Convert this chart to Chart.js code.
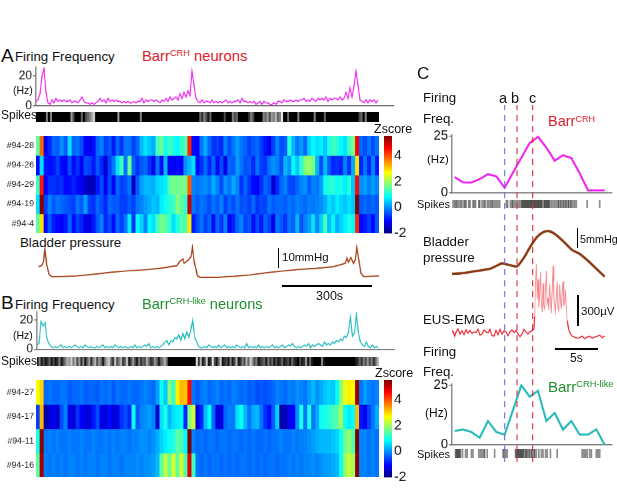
<!DOCTYPE html>
<html><head><meta charset="utf-8">
<style>
html,body{margin:0;padding:0;background:#fff;width:617px;height:495px;overflow:hidden;font-family:"Liberation Sans",Arial,sans-serif}
canvas{position:absolute}
.t{position:absolute;white-space:nowrap;line-height:1;color:#111;transform:translateY(-50%)}
.t sup{font-size:.62em;vertical-align:baseline;position:relative;top:-.5em}
.bar{position:absolute;background:#000}
</style>
<script src="https://cdn.jsdelivr.net/npm/chart.js@4/dist/chart.umd.min.js"></script>
</head><body>
<script>
// ---------- data ----------
const firingA=[3,4,8,20,25,9,2,1,4,2,5,3,4,3,4,3,3,4,2,3,3,2,4,6,3,2,2,1,2,1,2,3,5,3,4,2,5,3,4,3,4,3,3,2,3,2,3,2,2,3,2,3,3,5,2,4,3,4,4,3,4,3,2,4,3,5,3,6,4,5,6,4,8,5,9,6,10,7,23,14,5,3,2,4,2,3,3,2,4,2,3,2,3,2,3,4,2,3,2,3,3,4,2,5,3,3,2,3,2,3,1,2,3,1,3,2,2,1,1,2,1,3,3,2,4,3,3,4,3,3,4,3,4,4,5,3,4,3,5,4,3,5,4,5,4,6,3,5,4,5,5,4,6,4,5,9,5,12,6,13,23,14,4,3,2,4,2,4,3,4,2,4];
const firingB=[3,4,19,16,18,7,4,2,1,2,1,2,3,1,2,1,2,1,2,3,2,1,2,1,3,2,1,2,1,1,2,1,2,3,1,2,1,2,1,3,2,1,2,1,2,1,1,2,1,3,1,2,1,2,3,2,4,1,2,1,2,1,2,3,5,6,3,6,5,8,7,10,6,11,7,12,8,13,20,8,5,2,1,1,2,1,3,2,1,2,1,3,1,2,3,1,2,1,2,1,3,2,1,2,1,4,1,2,1,2,1,3,1,2,1,2,1,2,3,1,2,1,2,3,1,2,3,2,4,2,1,2,1,2,3,2,4,1,3,2,3,4,3,2,5,3,4,3,5,4,6,5,7,6,9,8,12,22,9,11,24,11,5,3,2,5,2,1,3,1,2,1];
const spikesA=[1,1,1,1,1,.5,1,.5,1,1,1,1,1,1,1,1,1,.4,.7,1,1,1,.6,1,.7,.6,.5,.35,.15,1,1,1,1,1,1,1,1,1,1,1,.4,1,1,1,1,1,1,1,1,1,1,.5,1,1,1,1,1,1,1,1,1,1,1,1,1,1,1,1,1,1,1,1,1,1,1,1,1,1,1,1,.6,.8,.5,.7,.9,.6,1,1,1,1,1,1,.7,1,1,1,.5,.7,.6,1,1,1,1,1,.8,.5,.7,1,1,1,1,.5,.6,.4,.7,.4,.5,.3,.6,.5,.1,1,1,.6,1,1,1,1,.5,1,1,1,1,1,1,1,.5,1,1,1,1,.6,1,1,1,1,1,1,1,1,1,1,1,1,1,1,1,1,.7,.6,1,.5,1,1,1,1,1,1];
const spikesB=[.9,.5,.9,.7,.9,.8,.6,.9,.7,.9,.8,.5,.9,.7,.5,.3,.4,.2,.5,.3,.7,.4,.8,.5,.9,.6,.4,.8,.5,.3,.7,.4,.6,.9,.5,.3,.2,.6,.8,.2,.7,.5,.3,.8,.6,.2,.9,.7,.4,.7,.9,.5,.8,.6,.7,.3,.6,.8,.7,.4,.6,.9,.6,.5,.3,.6,1,1,1,1,1,1,1,1,1,1,1,1,1,1,.1,.8,.3,.9,.7,.2,.9,.8,.1,.7,.9,.6,.2,.9,.8,.7,.9,.5,.9,.7,.3,.9,.8,.5,.7,.3,.6,.2,.4,.7,.5,.9,.8,.7,.6,.9,.5,.8,.6,.9,.7,.9,.8,.6,.9,.8,.7,.9,.6,.8,.9,1,.7,.9,.8,.4,.9,.6,.9,1,1,1,1,.5,.9,1,1,1,1,1,1,1,1,1,1,1,1,1,1,1,.9,.8,.6,.8,.5,.7,.4,.7,.5,.8,.6,.3];
const rowsA=['#94-28','#94-26','#94-29','#94-19','#94-4'];
const heatA=[
[1.5,3.8,-1.2,-.8,-.3,-.4,0,-.4,.6,-.3,-.2,-.5,-1.1,-1.2,-1,-.3,-.1,-.6,-.4,-.9,-.3,-.7,-.2,-.2,-.6,-.3,.3,.6,.4,.2,1.3,1.6,.9,1.3,1,.8,1.2,1.4,4.3,-1,-1.1,-.2,.2,-.3,-.7,-.6,-.8,-.1,-.5,-.2,.1,-.2,-.3,-.6,-.4,-.3,-.6,-.9,-1.2,-.6,-.1,-.5,-.4,1.1,.3,-.2,.1,-.3,.5,.8,.6,.7,.4,1,1.3,1.1,.8,.6,1.3,1.7,4.6,-.3,-.5,-.2,-.5,-.2],
[-1,.6,-.9,-1,-.9,-.6,-1,-1.1,-.5,-1,-.7,-1.1,-.5,-.6,-.9,-.4,-.8,-1.4,-.6,-.2,.6,1.3,-.2,1.6,-.3,-.7,-.4,-.3,-.7,-1.2,-.2,-1,.3,-1.1,-1.1,-1,-1.1,0,.3,.6,-1,-.7,-.3,-.8,-.3,-1,-.5,-1.2,-.3,-.4,.1,-.2,-.5,-.4,-.8,-.2,-.6,-.7,-.2,0,-.1,-.5,.3,0,.8,.4,1.1,1.8,1.9,1.7,.3,-.5,.3,-.4,-.8,-.7,-.8,-.1,-.7,.2,2.9,-.8,-.2,-.8,-.1,-.9],
[1.2,4.4,-1.1,-.7,-.7,-.8,-.7,-1,-1,-.8,-1,-1.2,-1.4,-1.6,-1.6,-.9,-.5,-1.1,-.5,-1.1,-.3,-.6,-.5,-.2,-1.5,-.4,.1,.3,.3,.2,.5,.6,.7,1.4,1.7,1.6,1.7,1.7,3.9,-.1,-.2,-.1,0,-.2,.2,-.1,-.5,0,-.2,.2,-.1,-.7,-.3,-.7,-1,-1.1,-.7,-.3,-.5,-1.4,-.8,-.3,-.1,-.5,-.6,-.3,-.1,0,-.4,-.1,-.2,.1,.9,1.1,1.1,.9,1,.7,1.1,.4,4.5,0,.1,-.1,.1,-.1],
[.6,5.4,-.6,-.1,-.4,-.2,-.3,-.4,-.5,-.6,-.2,-.4,.1,-.6,-.7,-.3,-.5,-.8,-.3,-.4,-.4,-.6,-.6,-.4,-.6,-.2,-.1,.1,.2,.4,.3,.7,.9,1.1,1.2,1.8,1.5,1.2,4.9,-.2,-.4,-.2,-.3,-.5,-.2,-.4,-.1,-.6,-.3,-.5,-.2,-.5,-.4,-.6,-.3,-.7,-.5,-.6,-.2,-.4,-.3,-.3,-.4,-.2,-.3,-.1,-.2,-.3,-.1,-.2,-.1,0,.2,.6,.4,.7,.5,.4,.6,.4,5.5,-.4,-.3,-.4,-.3,-.4],
[1.5,2.9,-1,-.4,-.9,-1,-1.1,-.9,-.3,-1,-.6,-.8,-1.2,-1.3,-.9,-.4,-.1,-.8,-.5,-1,-.3,-.6,-.2,.7,-.7,.8,.5,-.1,.8,.6,1.3,1.7,1.5,1.2,.6,1,1.4,1.4,2.9,-.9,-.5,-.2,-.6,-.3,-1,-.3,-.7,-.1,-1.1,-.8,-.3,-.1,-.6,-.4,-1,-.5,-.9,-.3,-.6,-1.2,-.2,-.4,-.7,-.2,-.4,.3,-.5,-.1,.1,.6,-.1,.5,1.3,.3,.8,.2,.5,.7,1,.8,4.3,-1,-.9,-.6,-1,-.4]];
const rowsB=['#94-27','#94-17','#94-11','#94-16'];
const heatB=[
[2.6,3,-.3,-.2,-.3,-.3,-.2,-.2,-.4,-.3,-.3,-.2,-.4,-.3,-.3,-.4,-.2,-.3,-.2,-.4,-.2,-.3,-.3,-.2,-.3,-.3,-.2,-.1,-.2,-.3,.1,.9,.4,1.8,1.2,2.8,3.2,3.1,4.5,-.2,-.4,-.2,-.1,-.3,-.2,-.1,-.3,-.2,-.3,-.1,-.2,-.3,-.2,-.4,-.3,-.5,-.4,-.5,-.4,-.3,-.1,-.2,-.3,-.1,-.2,0,-.1,-.2,.1,.3,0,.2,.4,.5,.4,.8,1.9,2.5,2.8,2.7,5.3,-.2,.1,-.1,-.2,-.1],
[-.6,3.2,-1.7,-1.4,-1.1,-1.5,-.5,-.1,-1.2,-1.4,-.7,-1.1,-1.3,-1.3,-.9,-.5,-1.2,-1.3,-1,-1.4,-1.2,-.7,-.5,-.8,.9,-.4,-.1,0,.1,-.1,-1.4,.6,1,.3,.6,.7,.8,-.8,1.8,2.3,-1.3,-.8,.3,.8,-.3,-1.3,-1.3,-.3,-.1,-.2,.6,.9,.3,-.2,.2,.3,-.2,-.7,-1,-.4,.5,-1.7,-1.6,-1.2,-1.1,0,1,-.2,1,-.2,.2,.9,1,1.1,1.3,1.5,2,.9,.7,.8,3.2,-.9,-1.1,-.6,-.2,.2],
[1,5.4,-.2,-.1,-.2,-.1,-.2,-.2,-.1,-.2,-.2,-.1,-.2,-.2,-.1,-.2,-.2,-.1,-.2,-.1,-.2,-.1,-.1,-.2,-.1,-.1,0,0,-.1,0,.2,.5,.7,.9,1,1.5,1.4,.8,5.5,-.1,-.3,-.2,-.3,-.2,-.2,-.3,-.2,-.2,-.3,-.2,-.2,-.3,-.2,-.3,-.2,-.3,-.3,-.2,-.3,-.2,-.2,-.1,-.2,-.2,-.1,-.2,-.1,-.1,0,.1,.2,.3,.3,.3,.4,.5,.9,1.6,1.9,1.4,5.5,-.1,-.1,-.2,-.1,-.2],
[1.5,5.2,-.1,-.2,-.1,-.2,-.1,-.2,-.1,-.1,-.2,-.1,-.2,-.1,-.1,-.2,-.1,-.1,-.2,-.1,-.1,-.2,-.1,-.1,-.1,0,-.1,0,0,.1,.3,1.5,2.2,1.6,2.4,1.5,2.4,1.4,4.8,1.3,-.2,-.3,-.2,-.3,-.2,-.2,-.3,-.2,-.3,-.2,-.3,-.2,-.2,-.3,-.2,-.3,-.2,-.3,-.2,-.2,-.3,-.2,-.2,-.1,-.2,-.1,-.2,-.1,-.1,0,-.1,0,.1,.1,.2,.3,.9,1.9,2.3,2,5.4,-.1,-.1,-.2,-.1,-.2]];
const colorbarRange=[-2,5.5];
const bladderT=[8,19,25,30,36,44,53,81,137,193,250,306,362,418,474,486,495,499,514,522,527,533,544,553,609,665,722,778,834,890,946,1003,1042,1048,1053,1061,1070,1076,1081,1087,1095,1104,1157];
const bladderP=[5.8,6.3,8.3,14.7,6.7,2,.8,.8,1.2,2,3,3.7,4.2,5,6.3,8.7,9.7,7.5,9.2,10.8,15.3,8.3,1.3,.5,.5,1,1.7,2.8,3.7,4.5,5,5.8,7.5,10,8,10.3,7.5,9.2,15.3,10,2.5,.8,1.2];
const cT=[0,1,2,3,4,5,6,7,8,9,10,11,12,13,14,15,16,17,18];
const freqC1=[7,4.7,4.6,6.1,8.3,7.3,2.3,9,15.5,22,24.7,20,14.2,16.6,15.4,8.7,1.2,1.2,1.2];
const freqC2=[5.8,6.5,5.4,3,10,5.4,4.3,14.6,25,20.2,22.7,10,13.4,6.4,10,4.3,4.3,6.5,0];
const spikeT1=[-.2,0,.15,.3,.5,.7,.85,1.1,1.25,1.4,1.7,1.85,2.2,2.35,2.5,2.9,3,3.3,3.5,3.65,3.9,4.1,4.3,4.45,4.6,4.8,5,5.2,5.4,6.2,6.35,6.7,6.9,7,7.2,7.4,7.6,7.8,8,8.1,8.2,8.3,8.4,8.5,8.6,8.7,8.8,8.9,9,9.1,9.2,9.3,9.4,9.5,9.6,9.7,9.8,9.9,10,10.1,10.2,10.3,10.4,10.5,10.7,10.8,10.9,11,11.1,11.2,11.3,11.4,11.6,11.8,12,12.2,12.4,12.5,12.7,12.8,13,13.1,13.3,13.4,13.6,13.7,13.9,14,14.2,14.4,14.6,15.9,17.4];
const spikeT2=[.1,.2,.3,.4,.5,.6,.7,.95,1.3,1.5,2,2.2,2.9,3.1,3.3,3.5,3.6,3.9,4.8,5.8,5.95,6.1,6.3,7.3,7.4,7.5,7.6,7.7,7.8,7.9,8,8.1,8.2,8.3,8.5,8.6,8.7,8.9,9,9.2,9.3,9.5,9.6,9.8,10.1,10.4,10.6,10.9,11.1,11.5,12.3,15.3,15.5,15.7,15.9,16.2,16.4,17,17.2,17.4];
const bladderCT=[-.44,.68,1.88,3.08,4.28,5.16,5.68,6.48,7.48,8.28,9.08,9.88,10.68,11.28,12.08,13.08,14.08,15.08,16.08,17.08,18];
const bladderC=[0,.2,.7,1.2,1.8,3,3.6,3.1,2.6,5.4,9.3,12.6,14.3,14.6,13.5,11,8.2,6.7,4.3,1.6,-.9];
const emgT=[-.44,-.2,0,.2,.4,.64,.88,1.12,1.36,1.6,1.84,2.08,2.32,2.56,2.8,3.04,3.28,3.52,3.76,4,4.24,4.48,4.72,4.96,5.2,5.44,5.68,5.92,6.16,6.4,6.64,6.88,7.12,7.36,7.6,7.84,8.08,8.32,8.56,8.8,9.04,9.28,9.5,9.6,9.7,9.8,9.9,10,10.1,10.2,10.3,10.4,10.5,10.6,10.7,10.8,10.9,11,11.1,11.2,11.3,11.4,11.5,11.6,11.7,11.8,11.9,12,12.1,12.2,12.3,12.4,12.5,12.6,12.7,12.8,12.9,13,13.1,13.2,13.3,13.4,13.5,13.7,13.9,14.1,14.4,14.7,15,15.3,15.6,15.9,16.2,16.5,16.8,17.1,17.4,17.7,18];
const emgV=[0,20,-30,15,40,-10,20,-15,30,0,25,-5,10,5,35,-20,-10,30,10,0,35,-25,-30,25,-15,35,-10,20,10,-25,10,30,5,25,-10,-35,-10,35,10,-10,15,20,40,160,450,670,330,520,240,360,590,310,200,480,260,230,400,600,270,340,220,470,300,190,420,650,340,250,200,380,500,240,210,470,300,230,400,500,260,300,420,240,120,30,-10,-30,-40,-50,-45,-30,-55,-40,-30,-50,-40,-30,-20,-45,-30];
const eventT=[6,7.48,9.36];
const eventColor=['#6f6fe8','#d8303a','#d8303a'];
// ---------- helpers ----------
Chart.defaults.font.family='"Liberation Sans",Arial,sans-serif';
Chart.defaults.color='#111';
const AX='#6a6a6a';
function jet(z){
  const t=Math.max(0,Math.min(1,(z+2)/7.5));
  const f=(a)=>Math.round(255*Math.max(0,Math.min(1,1.5-Math.abs(4*t-a))));
  return `rgb(${f(3)},${f(2)},${f(1)})`;
}
function mk(rect,m,config){
  const c=document.createElement('canvas');
  const W=rect.r-rect.l+m.l+m.r,H=rect.b-rect.t+m.t+m.b;
  c.width=W;c.height=H;
  c.style.left=(rect.l-m.l)+'px';c.style.top=(rect.t-m.t)+'px';
  c.style.width=W+'px';c.style.height=H+'px';
  if(m.blur)c.style.filter=`blur(${m.blur}px)`;
  document.body.appendChild(c);
  const o=config.options=config.options||{};
  o.responsive=false;o.animation=false;o.devicePixelRatio=1.5;
  o.plugins={legend:{display:false},tooltip:{enabled:false}};
  const right=o.scales.y.position==='right';
  o.layout={autoPadding:false,padding:{top:m.t,right:right?0:m.r,left:0,bottom:0}};
  o.scales.x.afterFit=s=>{s.height=m.b;s.paddingLeft=0;s.paddingRight=0};
  o.scales.y.afterFit=s=>{s.width=right?m.r:m.l;s.paddingTop=0;s.paddingBottom=0};
  return new Chart(c,config);
}
function text(x,y,html,size,color,extra){
  const d=document.createElement('div');d.className='t';d.innerHTML=html;
  d.style.left=x+'px';d.style.top=y+'px';d.style.fontSize=size+'px';
  if(color)d.style.color=color;
  if(extra)Object.assign(d.style,extra);
  document.body.appendChild(d);
}
function bar(x,y,w,h){const d=document.createElement('div');d.className='bar';
  Object.assign(d.style,{left:x+'px',top:y+'px',width:w+'px',height:h+'px'});document.body.appendChild(d);}
function traceAxes(xmin,xmax,ymin,ymax,ticks,tickSize){
  return {
    x:{type:'linear',min:xmin,max:xmax,ticks:{display:false},grid:{display:false},border:{color:AX,width:1}},
    y:{min:ymin,max:ymax,afterBuildTicks:a=>{a.ticks=ticks.map(v=>({value:v}))},
       ticks:{font:{size:tickSize},padding:1,color:'#111'},
       grid:{drawOnChartArea:false,drawTicks:true,tickLength:3,color:AX},border:{color:AX,width:1}}
  };
}
function firing(rect,vals,color,ymax){
  const pts=vals.map((y,i)=>({x:i,y}));
  mk(rect,{l:24,t:6,r:2,b:8},{type:'line',data:{datasets:[{data:pts,borderColor:color,borderWidth:1.1,pointRadius:0,tension:0}]},
    options:{scales:traceAxes(0,179,0,ymax,[0,20],12)}});
}
function strip(rect,vals){
  mk(rect,{l:0,t:0,r:0,b:0},{type:'bar',data:{labels:vals.map((_,i)=>i),datasets:[{data:vals.map(()=>1),barPercentage:1,categoryPercentage:1,
    backgroundColor:vals.map(d=>{const g=Math.round(255*(1-d));return `rgb(${g},${g},${g})`})}]},
    options:{scales:{x:{display:false},y:{display:false,min:0,max:1}}}});
}
function heat(rect,rows,matrix){
  mk(rect,{l:36,t:0,r:0,b:0,blur:.35},{type:'bar',data:{labels:matrix[0].map((_,i)=>i),
    datasets:matrix.map((row,r)=>({data:row.map(()=>[r,r+1]),backgroundColor:row.map(jet),grouped:false,barPercentage:1,categoryPercentage:1}))},
    options:{scales:{x:{display:false},
      y:{reverse:true,min:0,max:rows.length,afterBuildTicks:a=>{a.ticks=rows.map((_,i)=>({value:i+.5}))},
         ticks:{callback:(v)=>rows[Math.floor(v)],font:{size:8.8},padding:2,color:'#222',autoSkip:false},
         grid:{display:false,drawTicks:false},border:{display:false}}}}});
}
function colorbar(rect){
  mk(rect,{l:0,t:8,r:22,b:8},{type:'bar',data:{labels:['z'],datasets:[{data:[colorbarRange],barPercentage:1,categoryPercentage:1,
    backgroundColor:(ctx)=>{const a=ctx.chart.chartArea;if(!a)return '#00f';
      const g=ctx.chart.ctx.createLinearGradient(0,a.bottom,0,a.top);
      [[0,'#000080'],[.125,'#0000ff'],[.375,'#00ffff'],[.625,'#ffff00'],[.875,'#ff0000'],[1,'#800000']].forEach(s=>g.addColorStop(s[0],s[1]));return g;}}]},
    options:{scales:{x:{display:false},
      y:{position:'right',min:colorbarRange[0],max:colorbarRange[1],afterBuildTicks:a=>{a.ticks=[-2,0,2,4].map(v=>({value:v}))},
         ticks:{font:{size:14},padding:2,color:'#111'},grid:{display:false,drawTicks:false},border:{display:false}}}}});
}
function spikeTicks(rect,times){
  mk(rect,{l:0,t:0,r:0,b:0},{type:'bar',data:{datasets:[{data:times.map(x=>({x,y:1})),barThickness:1,backgroundColor:'rgba(0,0,0,.45)'}]},
    options:{scales:{x:{type:'linear',offset:false,display:false,min:-.32,max:18.88},y:{display:false,min:0,max:1}}}});
}
// ---------- Panel A ----------
text(1,55,'A',19);
text(15,57,'Firing Frequency',13.3);
text(142,56,'Barr<sup>CRH</sup> neurons',14.8,'#e0202c');
firing({l:36,r:394,t:67,b:105.5},firingA,'#f01ef0',26);
text(13,90,'(Hz)',10.5);
text(1,115,'Spikes',12);
strip({l:36,r:379,t:112,b:122},spikesA);
heat({l:36,r:379,t:136,b:233},rowsA,heatA);
text(374,129,'Zscore',12.5);
colorbar({l:384,r:392,t:136,b:233});
text(20,243,'Bladder pressure',13.3);
mk({l:36,r:379,t:244,b:282},{l:0,t:0,r:0,b:0},{type:'line',data:{datasets:[{data:bladderT.map((x,i)=>({x,y:bladderP[i]})),borderColor:'#a5431c',borderWidth:1.3,pointRadius:0,tension:0}]},
  options:{scales:{x:{type:'linear',display:false,min:0,max:1157},y:{display:false,min:-1.85,max:17.15}}}});
bar(277.5,248,1.6,20);text(282,258,'10mmHg',11.5);
bar(282,285,90,1.8);text(316,296,'300s',12.5);
// ---------- Panel B ----------
text(1,302,'B',19);
text(15,305,'Firing Frequency',13.3);
text(142,304,'Barr<sup>CRH-like</sup> neurons',14.6,'#1f8f2e');
firing({l:37,r:394,t:312,b:349},firingB,'#22bcbc',25.5);
text(13,335,'(Hz)',10.5);
text(1,361,'Spikes',12);
strip({l:37,r:379,t:357,b:366},spikesB);
heat({l:36,r:379,t:380,b:477},rowsB,heatB);
text(375,373,'Zscore',12.5);
colorbar({l:384,r:392,t:380,b:477});
// ---------- Panel C ----------
text(417,73,'C',17);
text(423,98,'Firing',13.3);text(423,119,'Freq.',13.3);
text(499,98,'a',14.5);text(511,98,'b',14.5);text(529,98,'c',14.5);
text(548,121,'Barr<sup>CRH</sup>',14.5,'#e0202c');
function cLine(rect,vals,color,lw){
  mk(rect,{l:26,t:6,r:2,b:8},{type:'line',data:{datasets:[{data:cT.map((x,i)=>({x,y:vals[i]})),borderColor:color,borderWidth:lw,pointRadius:0,tension:0}]},
    options:{scales:traceAxes(-.32,18.88,0,25.5,[0,25],13)}});
}
cLine({l:451.5,r:611.5,t:134.5,b:193},freqC1,'#ef20ef',2);
text(427,160,'(Hz)',11.5);
text(417,204,'Spikes',11);
spikeTicks({l:451.5,r:611.5,t:200,b:208},spikeT1);
text(423,242,'Bladder',13.3);text(423,258,'pressure',13.3);
mk({l:451.5,r:611.5,t:225,b:285},{l:0,t:0,r:0,b:0},{type:'line',data:{datasets:[{data:bladderCT.map((x,i)=>({x,y:bladderC[i]})),borderColor:'#8a3a12',borderWidth:2.4,pointRadius:0,tension:.2}]},
  options:{scales:{x:{type:'linear',display:false,min:-.32,max:18.88},y:{display:false,min:-3.74,max:16.67}}}});
bar(576.5,228,1.6,20);text(580,239,'5mmHg',10.8);
mk({l:451.5,r:611.5,t:255,b:345},{l:0,t:0,r:0,b:0},{type:'line',data:{datasets:[{data:emgT.map((x,i)=>({x,y:emgV[i]})),borderColor:'#ee1c2a',borderWidth:1.1,pointRadius:0,tension:0,
    segment:{borderColor:c=>(c.p0.parsed.x>9.5&&c.p0.parsed.x<13.5)?'rgba(240,50,60,.6)':undefined,borderWidth:c=>(c.p0.parsed.x>9.5&&c.p0.parsed.x<13.5)?.8:undefined}}]},
  options:{scales:{x:{type:'linear',display:false,min:-.32,max:18.88},y:{display:false,min:-116,max:755}}}});
bar(577,295,1.6,31);text(581,312,'300µV',11.5);
text(423,320,'EUS-EMG',13.3);
bar(555,348,43,1.6);text(570,358,'5s',12);
text(423,352,'Firing',13.3);text(423,372,'Freq.',13.3);
text(548,387,'Barr<sup>CRH-like</sup>',15,'#1f8f2e');
cLine({l:451.5,r:611.5,t:384,b:444.5},freqC2,'#22b8b8',2);
text(425,413,'(Hz)',12);
text(417,454,'Spikes',11);
spikeTicks({l:451.5,r:611.5,t:449,b:458},spikeT2);
// event lines a, b, c
mk({l:451.5,r:611.5,t:105,b:462},{l:0,t:0,r:0,b:0},{type:'line',data:{datasets:eventT.map((x,i)=>({data:[{x,y:0},{x,y:1}],borderColor:eventColor[i],borderWidth:1.2,borderDash:[6,5],pointRadius:0}))},
  options:{scales:{x:{type:'linear',display:false,min:-.32,max:18.88},y:{display:false,min:0,max:1}}}});
</script>
</body></html>
